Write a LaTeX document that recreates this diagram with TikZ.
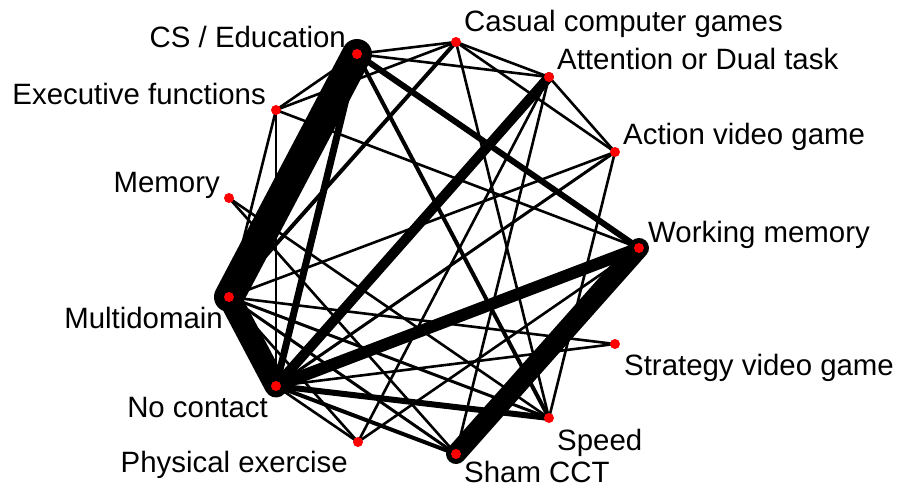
\documentclass[tikz,border=0pt]{standalone}
\usepackage{fontspec}
\setmainfont{Liberation Sans}
\begin{document}
\begin{tikzpicture}[x=1pt,y=-1pt,
  lab/.style={inner sep=0pt,font=\fontsize{29.4}{32}\selectfont},
  dot/.style={circle,fill=red,draw=none,minimum size=10pt,inner sep=0pt},
  ed/.style={draw=black,line cap=round,line width=#1pt},
  ed/.default=2.6]
\useasboundingbox (0,0) rectangle (898,487);
% node positions
\coordinate (CS) at (357,54);
\coordinate (Cas) at (456,42);
\coordinate (Att) at (549,77);
\coordinate (EF) at (276,110);
\coordinate (Act) at (615,152);
\coordinate (Mem) at (229,198);
\coordinate (WM) at (639,248);
\coordinate (Mul) at (229,297);
\coordinate (Str) at (615,344);
\coordinate (NoC) at (276,386);
\coordinate (Spd) at (549,418);
\coordinate (Phy) at (358,442);
\coordinate (Sham) at (456,454);
% labels
\node[lab,anchor=base east] (lCS) at (346,48) {CS / Education};
\node[lab,anchor=base west] (lCas) at (464,32) {Casual computer games};
\node[lab,anchor=base west] (lAtt) at (557,70) {Attention or Dual task};
\node[lab,anchor=base east] (lEF) at (266,105) {Executive functions};
\node[lab,anchor=base east] (lMem) at (220,192) {Memory};
\node[lab,anchor=base west] (lAct) at (623,145) {Action video game};
\node[lab,anchor=base west] (lWM) at (648,242) {Working memory};
\node[lab,anchor=base east] (lMul) at (223,328) {Multidomain};
\node[lab,anchor=base west] (lStr) at (624,375) {Strategy video game};
\node[lab,anchor=base east] (lNoC) at (268,417) {No contact};
\node[lab,anchor=base west] (lSpd) at (557,450) {Speed};
\node[lab,anchor=base east] (lPhy) at (348,472) {Physical exercise};
\node[lab,anchor=base west,text depth=0pt] (lSham) at (464,482) {Sham CCT};
% edges
\draw[ed=30] (CS) -- (Mul);
\draw[ed=23] (Mul) -- (NoC);
\draw[ed=20] (WM) -- (Sham);
\draw[ed=12] (WM) -- (NoC);
\draw[ed=10] (Att) -- (NoC);
\draw[ed=7] (CS) -- (NoC);
\draw[ed=6] (CS) -- (WM);
\draw[ed=6] (NoC) -- (Spd);
\draw[ed=4] (NoC) -- (Sham);
\draw[ed=3] (Mul) -- (Sham);
\draw[ed=4] (CS) -- (Spd);
\draw[ed=4] (Cas) -- (Mul);
\draw[ed=3] (Act) -- (NoC);
\draw[ed=3] (Mul) -- (Spd);
\draw[ed] (CS) -- (Cas);
\draw[ed] (CS) -- (Att);
\draw[ed] (CS) -- (EF);
\draw[ed] (EF) -- (Cas);
\draw[ed] (EF) -- (WM);
\draw[ed] (EF) -- (Mul);
\draw[ed] (EF) -- (NoC);
\draw[ed] (Cas) -- (Att);
\draw[ed] (Cas) -- (Act);
\draw[ed] (Cas) -- (Spd);
\draw[ed] (Att) -- (Act);
\draw[ed] (Att) -- (Phy);
\draw[ed] (Att) -- (Sham);
\draw[ed] (Act) -- (Spd);
\draw[ed] (Act) -- (Mul);
\draw[ed] (Mem) -- (Sham);
\draw[ed] (Mem) -- (Spd);
\draw[ed] (Mul) -- (Str);
\draw[ed] (NoC) -- (Str);
\draw[ed] (WM) -- (Phy);
\draw[ed] (NoC) -- (Phy);
\draw[ed] (Mul) -- (Phy);
% dots
\foreach \n in {CS,Cas,Att,EF,Act,Mem,WM,Mul,Str,NoC,Spd,Phy,Sham}
  \node[dot] (d\n) at (\n) {};
\end{tikzpicture}
\end{document}
